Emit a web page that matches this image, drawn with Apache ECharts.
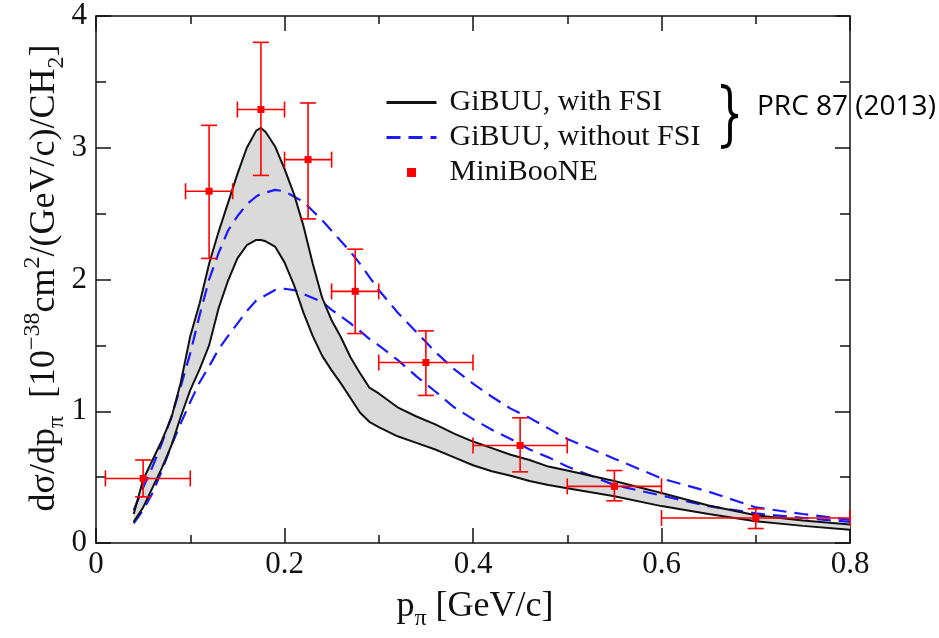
<!DOCTYPE html>
<html><head><meta charset="utf-8">
<script src="https://cdn.jsdelivr.net/npm/echarts@6/dist/echarts.min.js"></script>
<style>html,body{margin:0;padding:0;background:#fff}#c{width:939px;height:638px}</style>
</head><body><div id="c"></div>
<script>
// ---- data ----
const xGrid = [0.04,0.05,0.06,0.07,0.08,0.09,0.10,0.11,0.12,0.13,0.14,0.15,0.16,0.17,0.175,0.18,0.19,0.20,0.21,0.22,0.23,0.24,0.25,0.26,0.27,0.28,0.29,0.30,0.32,0.34,0.36,0.38,0.40,0.42,0.44,0.46,0.48,0.50,0.55,0.60,0.65,0.70,0.75,0.80];
const fsiUpper = [0.22,0.48,0.63,0.78,0.95,1.22,1.57,1.82,2.12,2.36,2.58,2.80,3.00,3.13,3.15,3.12,3.01,2.84,2.65,2.41,2.12,1.86,1.69,1.56,1.41,1.29,1.18,1.135,1.03,0.96,0.90,0.83,0.77,0.72,0.67,0.63,0.58,0.55,0.47,0.38,0.285,0.21,0.17,0.14];
const fsiLower = [0.16,0.27,0.42,0.57,0.74,0.96,1.16,1.32,1.50,1.78,1.99,2.16,2.26,2.30,2.30,2.29,2.25,2.13,1.96,1.75,1.57,1.42,1.31,1.21,1.10,0.99,0.92,0.88,0.81,0.76,0.71,0.65,0.59,0.545,0.51,0.47,0.44,0.415,0.355,0.28,0.22,0.165,0.13,0.10];
const noFsiUpper = [0.25,0.42,0.58,0.76,0.96,1.19,1.44,1.73,2.00,2.20,2.37,2.48,2.57,2.63,2.65,2.66,2.68,2.67,2.63,2.59,2.52,2.45,2.37,2.29,2.21,2.12,2.02,1.92,1.75,1.60,1.45,1.32,1.21,1.11,1.02,0.95,0.87,0.79,0.64,0.49,0.39,0.27,0.22,0.175];
const noFsiLower = [0.15,0.25,0.38,0.55,0.74,0.91,1.07,1.22,1.34,1.47,1.57,1.665,1.76,1.84,1.86,1.88,1.92,1.93,1.92,1.89,1.86,1.83,1.77,1.72,1.667,1.61,1.55,1.50,1.39,1.265,1.15,1.03,0.94,0.86,0.79,0.71,0.65,0.58,0.44,0.36,0.28,0.225,0.19,0.16];

const dataX   = [0.05,0.12,0.175,0.225,0.275,0.35,0.45,0.55,0.70];
const dataY   = [0.49,2.67,3.29,2.91,1.91,1.37,0.74,0.43,0.19];
const dataXLo = [0.01,0.095,0.15,0.20,0.25,0.30,0.40,0.50,0.60];
const dataXHi = [0.10,0.145,0.20,0.25,0.30,0.40,0.50,0.60,0.80];
const dataYLo = [0.35,2.16,2.79,2.46,1.59,1.12,0.54,0.32,0.11];
const dataYHi = [0.63,3.17,3.80,3.34,2.23,1.61,0.95,0.55,0.26];

const xTickLabels = {0:'0',0.2:'0.2',0.4:'0.4',0.6:'0.6',0.8:'0.8'};
const yTickLabels = {0:'0',1:'1',2:'2',3:'3',4:'4'};

const seriesNames = ['GiBUU, with FSI','GiBUU, without FSI','MiniBooNE'];

// ---- build ----
const pairs = (xs, ys) => xs.map((x,i)=>[x, ys[i]]);
const errData = dataX.map((x,i)=>[x, dataY[i], dataXLo[i], dataXHi[i], dataYLo[i], dataYHi[i]]);
const serif = 'Liberation Serif';
const axisCol = '#111';
const dash = [14,8];

function mkXAxis(pos, labels){
  return {
    type:'value', min:0, max:0.8, interval:0.2, position:pos,
    axisLine:{show:true, onZero:false, lineStyle:{color:axisCol, width:1.5}},
    axisTick:{show:true, inside:true, length:15, lineStyle:{color:axisCol, width:1.5}},
    minorTick:{show:true, splitNumber:2, length:8, lineStyle:{color:axisCol, width:1.5}},
    splitLine:{show:false}, minorSplitLine:{show:false},
    axisLabel:{show:labels, fontFamily:serif, fontSize:31, color:'#111', margin:6,
      formatter:v=>xTickLabels[Math.round(v*10)/10] ?? ''}
  };
}
function mkYAxis(pos, labels){
  return {
    type:'value', min:0, max:4, interval:1, position:pos,
    axisLine:{show:true, onZero:false, lineStyle:{color:axisCol, width:1.5}},
    axisTick:{show:true, inside:true, length:15, lineStyle:{color:axisCol, width:1.5}},
    minorTick:{show:true, splitNumber:2, length:10, lineStyle:{color:axisCol, width:1.5}},
    splitLine:{show:false}, minorSplitLine:{show:false},
    axisLabel:{show:labels, fontFamily:serif, fontSize:31, color:'#111', margin:9,
      formatter:v=>yTickLabels[v] ?? ''}
  };
}

const braceStyle = {stroke:'#000', lineWidth:3.8, fill:null};
const bz = (x1,y1,cpx1,cpy1,cpx2,cpy2,x2,y2)=>({type:'bezierCurve', shape:{x1,y1,cpx1,cpy1,cpx2,cpy2,x2,y2}, style:braceStyle});
const sl = (x1,y1,x2,y2)=>({type:'line', shape:{x1,y1,x2,y2}, style:braceStyle});

const chart = echarts.init(document.getElementById('c'), null, {renderer:'canvas'});
chart.setOption({
  animation:false,
  backgroundColor:'#fff',
  grid:{left:96, top:16, width:754, height:527, containLabel:false},
  xAxis:[mkXAxis('bottom', true), mkXAxis('top', false)],
  yAxis:[mkYAxis('left', true), mkYAxis('right', false)],
  legend:{
    data:[
      {name:seriesNames[0], itemStyle:{opacity:0}},
      {name:seriesNames[1], itemStyle:{opacity:0}},
      {name:seriesNames[2], icon:'path://M0 0H10V10H0Z', itemStyle:{color:'#ff0000'}}
    ],
    orient:'vertical', left:380, top:82, itemWidth:50, itemHeight:9, itemGap:4,
    selectedMode:false,
    lineStyle:{width:3},
    textStyle:{fontFamily:serif, fontSize:30, color:'#111', lineHeight:31, padding:[0,0,0,8]}
  },
  series:[
    {
      name:'band', type:'custom', z:1, clip:true,
      data:[[xGrid[0], fsiLower[0]]],
      encode:{x:0, y:1},
      renderItem:(params, api)=>{
        const pts = [];
        for (let i=0;i<xGrid.length;i++) pts.push(api.coord([xGrid[i], fsiUpper[i]]));
        for (let i=xGrid.length-1;i>=0;i--) pts.push(api.coord([xGrid[i], fsiLower[i]]));
        return {type:'polygon', shape:{points:pts}, style:{fill:'#dadada', stroke:null}};
      },
      silent:true
    },
    {name:seriesNames[1], type:'line', z:2, data:pairs(xGrid, noFsiUpper), symbol:'none',
      lineStyle:{color:'#1a1aff', width:2.2, type:dash}, itemStyle:{color:'#1a1aff'}},
    {name:seriesNames[1], type:'line', z:2, data:pairs(xGrid, noFsiLower), symbol:'none',
      lineStyle:{color:'#1a1aff', width:2.2, type:dash}, itemStyle:{color:'#1a1aff'}},
    {name:seriesNames[0], type:'line', z:3, data:pairs(xGrid, fsiUpper), symbol:'none',
      lineStyle:{color:'#111', width:2}, itemStyle:{color:'#111'}},
    {name:seriesNames[0], type:'line', z:3, data:pairs(xGrid, fsiLower), symbol:'none',
      lineStyle:{color:'#111', width:2}, itemStyle:{color:'#111'}},
    {
      name:seriesNames[2], type:'custom', z:4,
      itemStyle:{color:'#ff0000'},
      data:errData, encode:{x:0, y:1},
      renderItem:(params, api)=>{
        const x=api.value(0), y=api.value(1);
        const c=api.coord([x,y]);
        const l=api.coord([api.value(2),y]), r=api.coord([api.value(3),y]);
        const b=api.coord([x,api.value(4)]), t=api.coord([x,api.value(5)]);
        const cap=8, st={stroke:'#ff0000', lineWidth:1.6};
        const ln=(x1,y1,x2,y2)=>({type:'line', shape:{x1,y1,x2,y2}, style:st});
        return {type:'group', children:[
          ln(l[0],c[1],r[0],c[1]),
          ln(l[0],c[1]-cap,l[0],c[1]+cap),
          ln(r[0],c[1]-cap,r[0],c[1]+cap),
          ln(c[0],b[1],c[0],t[1]),
          ln(c[0]-cap,b[1],c[0]+cap,b[1]),
          ln(c[0]-cap,t[1],c[0]+cap,t[1]),
          {type:'rect', shape:{x:c[0]-3.5,y:c[1]-3.5,width:7,height:7}, style:{fill:'#ff0000'}}
        ]};
      }
    }
  ],
  graphic:[
    {type:'text', x:45, y:278, rotation:Math.PI/2,
      style:{
        text:'{n|dσ/dp}{s|π}{n|  [10}{p|−38}{n|cm}{p|2}{n|/(GeV/c)/CH}{s|2}{n|]}',
        align:'center', verticalAlign:'middle', fill:'#111',
        rich:{
          n:{fontFamily:serif, fontSize:36, lineHeight:48, verticalAlign:'middle', fill:'#111'},
          s:{fontFamily:serif, fontSize:24, lineHeight:24, verticalAlign:'bottom', fill:'#111'},
          p:{fontFamily:serif, fontSize:24, lineHeight:24, verticalAlign:'top', fill:'#111'}
        }
      }},
    {type:'text', x:475, y:607,
      style:{
        text:'{n|p}{s|π}{n| [GeV/c]}',
        align:'center', verticalAlign:'middle', fill:'#111',
        rich:{
          n:{fontFamily:serif, fontSize:36, lineHeight:48, verticalAlign:'middle', fill:'#111'},
          s:{fontFamily:serif, fontSize:24, lineHeight:24, verticalAlign:'bottom', fill:'#111'}
        }
      }},
    bz(721,86, 728,86, 730,89, 730,96),
    sl(730,96, 730,108),
    bz(730,108, 730,113, 733,116, 738,116),
    bz(738,116, 733,116, 730,119, 730,124),
    sl(730,124, 730,138),
    bz(730,138, 730,145, 728,147, 721,147),
    {type:'text', x:757, y:107,
      style:{text:'PRC 87 (2013)', fontFamily:'Open Sans', fontSize:28, fill:'#000', align:'left', verticalAlign:'middle'}}
  ]
});
</script></body></html>
